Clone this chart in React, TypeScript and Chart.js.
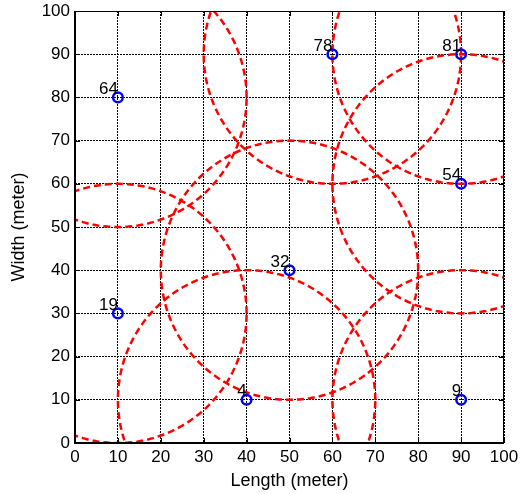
import React, { useEffect, useRef } from 'react';
import { Chart, registerables } from 'chart.js';

Chart.register(...registerables);

// ---- data ----
const nodeIds = ['64', '78', '81', '54', '32', '19', '4', '9'];
const nodeX = [10, 60, 90, 90, 50, 10, 40, 90];
const nodeY = [80, 90, 90, 60, 40, 30, 10, 10];
const rangeRadius = 30; // communication range (meter)
const axisMin = 0;
const axisMax = 100;
const tickStep = 10;
const xTitle = 'Length (meter)';
const yTitle = 'Width (meter)';

const FONT = "'Liberation Sans', Arial, Helvetica, sans-serif";

function circleOutline(cx: number, cy: number, r: number) {
  const pts: { x: number; y: number }[] = [];
  const n = 160;
  for (let i = 0; i <= n; i++) {
    const t = (i / n) * Math.PI * 2;
    pts.push({ x: cx + r * Math.cos(t), y: cy + r * Math.sin(t) });
  }
  return pts;
}

function zeroPadding(s: any) {
  s.paddingTop = 0;
  s.paddingBottom = 0;
  s.paddingLeft = 0;
  s.paddingRight = 0;
}

const framePlugin = {
  id: 'matlabFrame',
  afterDatasetsDraw(chart: any) {
    const { ctx, scales } = chart;
    const xs = scales.x;
    const ys = scales.y;
    ctx.save();
    ctx.fillStyle = '#000';
    ctx.font = `17px ${FONT}`;
    ctx.textAlign = 'right';
    ctx.textBaseline = 'alphabetic';
    nodeIds.forEach((id, i) => {
      const px = xs.getPixelForValue(nodeX[i]);
      const py = ys.getPixelForValue(nodeY[i]);
      ctx.fillText(id, px, py - 3.5);
    });
    ctx.restore();
  },
  afterDraw(chart: any) {
    const { ctx, chartArea, scales } = chart;
    const { left, right, top, bottom } = chartArea;
    ctx.save();
    ctx.strokeStyle = '#000';
    ctx.setLineDash([]);
    // inward tick marks
    ctx.lineWidth = 1;
    const tl = 5;
    scales.x.ticks.forEach((t: any) => {
      const px = Math.round(scales.x.getPixelForValue(t.value)) + 0.5;
      ctx.beginPath();
      ctx.moveTo(px, bottom);
      ctx.lineTo(px, bottom - tl);
      ctx.moveTo(px, top);
      ctx.lineTo(px, top + tl);
      ctx.stroke();
    });
    scales.y.ticks.forEach((t: any) => {
      const py = Math.round(scales.y.getPixelForValue(t.value)) + 0.5;
      ctx.beginPath();
      ctx.moveTo(left, py);
      ctx.lineTo(left + tl, py);
      ctx.moveTo(right, py);
      ctx.lineTo(right - tl, py);
      ctx.stroke();
    });
    // box: thin top/right, heavier left/bottom
    ctx.lineWidth = 1;
    ctx.beginPath();
    ctx.moveTo(left, Math.round(top) + 0.5);
    ctx.lineTo(right, Math.round(top) + 0.5);
    ctx.moveTo(Math.round(right) - 0.5, top);
    ctx.lineTo(Math.round(right) - 0.5, bottom);
    ctx.stroke();
    ctx.lineWidth = 2;
    ctx.beginPath();
    ctx.moveTo(Math.round(left), top);
    ctx.lineTo(Math.round(left), Math.round(bottom) + 1);
    ctx.moveTo(left - 1, Math.round(bottom));
    ctx.lineTo(right, Math.round(bottom));
    ctx.stroke();
    ctx.restore();
  },
};

export default function App() {
  const canvasRef = useRef<HTMLCanvasElement | null>(null);

  useEffect(() => {
    document.body.style.margin = '0';
    const canvas = canvasRef.current;
    if (!canvas) return;

    const circleSets = nodeIds.map((id, i) => ({
      label: `range ${id}`,
      data: circleOutline(nodeX[i], nodeY[i], rangeRadius),
      showLine: true,
      borderColor: '#ff0000',
      borderWidth: 2.5,
      borderDash: [7, 4],
      pointRadius: 0,
      pointHoverRadius: 0,
      fill: false,
      tension: 0,
      clip: 0,
    }));

    const chart = new Chart(canvas, {
      type: 'scatter',
      data: {
        datasets: [
          {
            label: 'nodes',
            data: nodeX.map((x, i) => ({ x, y: nodeY[i] })),
            pointStyle: 'circle',
            pointRadius: 4.8,
            pointBorderWidth: 2.5,
            pointBorderColor: '#0000ff',
            pointBackgroundColor: 'rgba(0,0,0,0)',
            showLine: false,
          } as any,
          ...circleSets,
        ],
      },
      options: {
        animation: false,
        responsive: true,
        maintainAspectRatio: false,
        events: [],
        layout: { padding: { top: 11, right: 16, bottom: 0, left: 0 } },
        plugins: {
          legend: { display: false },
          tooltip: { enabled: false },
        },
        scales: {
          x: {
            type: 'linear',
            min: axisMin,
            max: axisMax,
            afterFit: (s: any) => {
              s.height = 51;
              zeroPadding(s);
            },
            ticks: {
              stepSize: tickStep,
              autoSkip: false,
              maxRotation: 0,
              padding: 4,
              color: '#000',
              font: { family: FONT, size: 17 },
            },
            grid: {
              color: '#000',
              lineWidth: 1,
              drawTicks: false,
            },
            border: { display: false, dash: [2, 1] },
            title: {
              display: true,
              text: xTitle,
              color: '#000',
              font: { family: FONT, size: 18 },
              padding: { top: 0, bottom: 2 },
            },
          },
          y: {
            type: 'linear',
            min: axisMin,
            max: axisMax,
            afterFit: (s: any) => {
              s.width = 75;
              zeroPadding(s);
            },
            ticks: {
              stepSize: tickStep,
              autoSkip: false,
              padding: 5,
              color: '#000',
              font: { family: FONT, size: 17 },
            },
            grid: {
              color: '#000',
              lineWidth: 1,
              drawTicks: false,
            },
            border: { display: false, dash: [2, 1] },
            title: {
              display: true,
              text: yTitle,
              color: '#000',
              font: { family: FONT, size: 18 },
              padding: { top: 8, bottom: 0 },
            },
          },
        },
      },
      plugins: [framePlugin],
    });

    return () => chart.destroy();
  }, []);

  return (
    <div style={{ width: 520, height: 494, position: 'relative', background: '#fff' }}>
      <canvas ref={canvasRef} />
    </div>
  );
}
